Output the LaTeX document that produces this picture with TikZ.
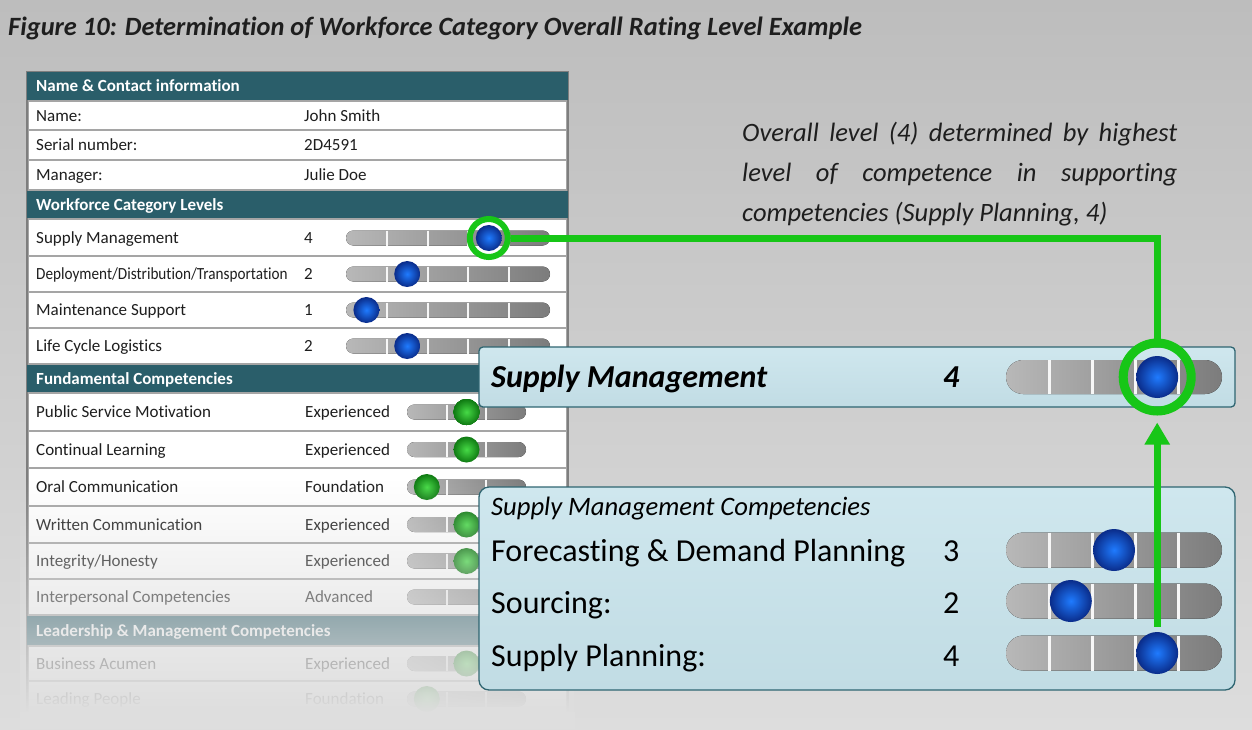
\documentclass[tikz,border=0pt]{standalone}
\usepackage{graphicx}
\usepackage{fontspec}
\setmainfont{Carlito}[Ligatures=NoCommon]
\usetikzlibrary{arrows.meta,fadings}
\definecolor{bgtop}{HTML}{BDBDBD}
\definecolor{bgbot}{HTML}{DDDDDD}
\definecolor{hdrteal}{HTML}{2A5E6A}
\definecolor{txtdark}{HTML}{1E1E1E}
\definecolor{tblgray}{HTML}{A5A5A5}
\definecolor{tblframe}{HTML}{7E7E7E}
\definecolor{barL}{HTML}{B8B8B8}
\definecolor{barR}{HTML}{7C7C7C}
\definecolor{ballBin}{HTML}{1F7BFF}
\definecolor{ballBout}{HTML}{0A2C8A}
\definecolor{ballGin}{HTML}{46DA46}
\definecolor{ballGout}{HTML}{0F7A12}
\definecolor{ringgreen}{HTML}{17C617}
\definecolor{boxtop}{HTML}{CFE7EE}
\definecolor{boxbot}{HTML}{C1DCE4}
\definecolor{boxline}{HTML}{2F6571}
\definecolor{fadecol}{HTML}{DEDEDE}
\tikzfading[name=tablefade, top color=transparent!100, bottom color=transparent!0]
\newcommand\lvlbar[6]{% #1 sep width, #2 x0, #3 x1, #4 yc, #5 h, #6 nseg
  \pgfmathsetmacro\bhh{#5/2}%
  \pgfmathsetmacro\segw{(#3-#2)/#6}%
  \fill[left color=barL, right color=barR, rounded corners=\bhh pt] (#2,#4-\bhh) rectangle (#3,#4+\bhh);
  \foreach \k in {1,...,#6}{\ifnum\k<#6\relax
    \draw[white!94!gray, line width=#1] ({#2+\k*\segw},{#4-\bhh}) -- ({#2+\k*\segw},{#4+\bhh});\fi}%
}
\tikzset{
  tbltext/.style={anchor=base west, inner sep=0, font=\fontsize{17}{20}\selectfont, text=txtdark},
  hdrtext/.style={anchor=base west, inner sep=0, font=\fontsize{17}{20}\selectfont\bfseries, text=white},
  blueball/.style={circle, inner sep=0, minimum size=#1, shading=radial, inner color=ballBin, outer color=ballBout},
  greenball/.style={circle, inner sep=0, minimum size=#1, shading=radial, inner color=ballGin, outer color=ballGout},
  ring/.style={circle, draw=ringgreen, inner sep=0},
  greenconn/.style={draw=ringgreen, line width=7pt},
  infobox/.style={draw=boxline, line width=1.3pt, top color=boxtop, bottom color=boxbot, inner sep=0},
  bigtext/.style={anchor=base west, inner sep=0, font=\fontsize{32}{36}\selectfont, text=black},
}
\begin{document}
\begin{tikzpicture}[x=1pt,y=-1pt]
\useasboundingbox (0,0) rectangle (1252,729);
% background
\fill[top color=bgtop, bottom color=bgbot] (0,0) rectangle (1252,729);
\node[anchor=base west, inner sep=0, font=\fontsize{26.4}{30}\selectfont\bfseries\itshape, text=txtdark] (title) at (8,35) {Figure 10: Determination of Workforce Category Overall Rating Level Example};

% table base
\fill[tblgray, draw=tblframe, line width=1.2pt] (27,72) rectangle (568,716);
% headers
\fill[hdrteal] (27,72) rectangle (568,100);
\fill[hdrteal] (27,191) rectangle (568,218);
\fill[hdrteal] (27,365) rectangle (568,392);
\fill[hdrteal] (27,616) rectangle (568,645);
% rows
\foreach \a/\b in {102/129,131/159,161/189,220/255,257/291,293/327,329/363,394/430,432/467,469/505,507/542,544/578,580/614,647/680,682/716}
  \fill[white] (29,\a) rectangle (566,\b);

% header texts
\node[hdrtext] (h1) at (36,91.5) {Name \& Contact information};
\node[hdrtext] (h2) at (36,210) {Workforce Category Levels};
\node[hdrtext] (h3) at (36,384) {Fundamental Competencies};
\node[hdrtext] (h4) at (36,636) {Leadership \& Management Competencies};
% row texts
\node[tbltext] (r1) at (36,121) {Name:};
\node[tbltext] (v1) at (304,121) {John Smith};
\node[tbltext] (r2) at (36,150.5) {Serial number:};
\node[tbltext] (v2) at (304,150.5) {2D4591};
\node[tbltext] (r3) at (36,180.5) {Manager:};
\node[tbltext] (v3) at (304,180.5) {Julie Doe};
\node[tbltext] (r4) at (36,243.5) {Supply Management};
\node[tbltext] (v4) at (304,243.5) {4};
\node[tbltext] (r5) at (36,279.5) {\scalebox{0.895}[1]{Deployment/Distribution/Transportation}};
\node[tbltext] (v5) at (304,279.5) {2};
\node[tbltext] (r6) at (36,315.5) {Maintenance Support};
\node[tbltext] (v6) at (304,315.5) {1};
\node[tbltext] (r7) at (36,351.5) {Life Cycle Logistics};
\node[tbltext] (v7) at (304,351.5) {2};
\node[tbltext] (r8) at (36,417.5) {Public Service Motivation};
\node[tbltext] (v8) at (305,417.5) {Experienced};
\node[tbltext] (r9) at (36,455) {Continual Learning};
\node[tbltext] (v9) at (305,455) {Experienced};
\node[tbltext] (r10) at (36,492.5) {Oral Communication};
\node[tbltext] (v10) at (305,492.5) {Foundation};
\node[tbltext] (r11) at (36,530) {Written Communication};
\node[tbltext] (v11) at (305,530) {Experienced};
\node[tbltext] (r12) at (36,566.5) {Integrity/Honesty};
\node[tbltext] (v12) at (305,566.5) {Experienced};
\node[tbltext] (r13) at (36,602.5) {Interpersonal Competencies};
\node[tbltext] (v13) at (305,602.5) {Advanced};
\node[tbltext] (r14) at (36,669) {Business Acumen};
\node[tbltext] (v14) at (305,669) {Experienced};
\node[tbltext] (r15) at (36,704.5) {Leading People};
\node[tbltext] (v15) at (305,704.5) {Foundation};

% workforce bars
\lvlbar{2pt}{346}{550}{238}{15}{5}
\lvlbar{2pt}{346}{550}{274}{15}{5}
\lvlbar{2pt}{346}{550}{310}{15}{5}
\lvlbar{2pt}{346}{550}{346}{15}{5}
\node[blueball=26pt] (b4) at (488.8,238) {};
\node[blueball=26pt] (b5) at (407.2,274) {};
\node[blueball=26pt] (b6) at (366.4,310) {};
\node[blueball=26pt] (b7) at (407.2,346) {};
% competency bars
\foreach \yy in {412,449.5,487,524.5,561,597,663.5,699}
  \lvlbar{2pt}{407}{526}{\yy}{15}{3}
\node[greenball=26pt] (g8) at (466.5,412) {};
\node[greenball=26pt] (g9) at (466.5,449.5) {};
\node[greenball=26pt] (g10) at (426.8,487) {};
\node[greenball=26pt] (g11) at (466.5,524.5) {};
\node[greenball=26pt] (g12) at (466.5,561) {};
\node[greenball=26pt] (g13) at (506.2,597) {};
\node[greenball=26pt] (g14) at (466.5,663.5) {};
\node[greenball=26pt] (g15) at (426.8,699) {};

% fade of the table bottom
\fill[fadecol, path fading=tablefade] (20,480) rectangle (575,712);
\fill[fadecol] (20,711.5) rectangle (575,729);

% annotation
\node[anchor=north west, inner sep=0, text width=435pt, align=justify, font=\fontsize{26.5}{40}\selectfont\itshape, text=txtdark] (note) at (742,120.5)
  {\rule{0pt}{21pt}Overall level (4) determined by highest\linebreak level of competence in supporting\linebreak competencies (Supply Planning, 4)};

% box 1
\node[infobox, rounded corners=4pt, minimum width=756pt, minimum height=60pt] (box1) at (857,377) {};
\node[anchor=base west, inner sep=0, font=\fontsize{32}{36}\selectfont\bfseries\itshape] (box1t) at (491,387) {Supply Management};
\node[anchor=base west, inner sep=0, font=\fontsize{32}{36}\selectfont\bfseries\itshape] (box1v) at (943,387) {4};
\lvlbar{3pt}{1006}{1222}{377}{34}{5}
\node[blueball=42pt] (smball) at (1157.2,377) {};

% box 2
\node[infobox, rounded corners=10pt, minimum width=756pt, minimum height=203pt] (box2) at (857,588.5) {};
\node[anchor=base west, inner sep=0, font=\fontsize{26.6}{30}\selectfont\itshape] (box2t) at (491,515.5) {Supply Management Competencies};
\node[bigtext] (c1) at (491,561) {Forecasting \& Demand Planning};
\node[bigtext] (c1v) at (943,561) {3};
\node[bigtext] (c2) at (491,613) {Sourcing:};
\node[bigtext] (c2v) at (943,613) {2};
\node[bigtext] (c3) at (491,666) {Supply Planning:};
\node[bigtext] (c3v) at (943,666) {4};
\lvlbar{3pt}{1006}{1222}{550}{35}{5}
\lvlbar{3pt}{1006}{1222}{601}{35}{5}
\lvlbar{3pt}{1006}{1222}{653}{35}{5}
\node[blueball=42pt] (fball) at (1114,550) {};
\node[blueball=42pt] (sball) at (1070.8,601) {};
\node[blueball=42pt] (spball) at (1157.2,653) {};

% rings and connectors
\node[ring, line width=6pt, minimum size=38pt] (ring1) at (b4) {};
\node[ring, line width=9pt, minimum size=68pt] (ring2) at (smball) {};
\draw[greenconn] (ring1.east) -| (ring2.north);
\coordinate (arrbase) at ([yshift=5pt]spball.north);
\draw[greenconn, -{Triangle[width=24pt,length=22pt]}, shorten >=7pt] (arrbase) -- (ring2.south);
\end{tikzpicture}
\end{document}
